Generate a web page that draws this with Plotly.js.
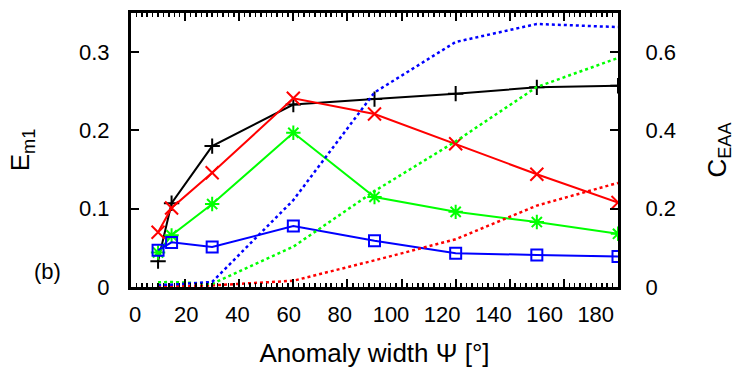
<!DOCTYPE html>
<html>
<head>
<meta charset="utf-8">
<script src="https://cdn.plot.ly/plotly-3.0.1.min.js"></script>
<style>
html,body{margin:0;padding:0;background:#fff;}
#chart{width:747px;height:374px;}
</style>
</head>
<body>
<div id="chart"></div>
<script>
// Anomaly width Psi [deg]
var psi = [10, 15, 30, 60, 90, 120, 150, 180];

// E_m1 (left axis), solid lines with markers
var emBlack = [0.033, 0.107, 0.180, 0.233, 0.240, 0.247, 0.255, 0.257];
var emRed   = [0.070, 0.101, 0.146, 0.241, 0.221, 0.183, 0.144, 0.108];
var emGreen = [0.044, 0.066, 0.106, 0.197, 0.115, 0.096, 0.083, 0.068];
var emBlue  = [0.047, 0.057, 0.051, 0.078, 0.059, 0.043, 0.041, 0.039];

// C_EAA (right axis), dotted lines
var cBlue  = [0.005, 0.006, 0.013, 0.222, 0.497, 0.626, 0.672, 0.664];
var cGreen = [0.012, 0.013, 0.008, 0.103, 0.245, 0.372, 0.511, 0.585];
var cRed   = [0.002, 0.002, 0.004, 0.016, 0.068, 0.122, 0.208, 0.266];

var xTicks = [0, 20, 40, 60, 80, 100, 120, 140, 160, 180];
var yLeftTicks = [0, 0.1, 0.2, 0.3];
var yLeftText = ['0', '0.1', '0.2', '0.3'];
var yRightTicks = [0, 0.2, 0.4, 0.6];
var yRightText = ['0', '0.2', '0.4', '0.6'];

var FONT = 'Liberation Sans, Arial, sans-serif';

function solid(y, color, symbol, size) {
  return {
    x: psi, y: y, type: 'scatter', mode: 'lines+markers',
    xaxis: 'x', yaxis: 'y',
    line: {color: color, width: 2},
    marker: {symbol: symbol, size: size, color: color, line: {color: color, width: 2}},
    showlegend: false, hoverinfo: 'skip'
  };
}
function dotted(y, color) {
  return {
    x: psi, y: y, type: 'scatter', mode: 'lines',
    xaxis: 'x', yaxis: 'y2',
    line: {color: color, width: 2.5, dash: 'dot'},
    showlegend: false, hoverinfo: 'skip'
  };
}

var data = [
  dotted(cRed, '#ff0000'),
  dotted(cGreen, '#00ff00'),
  dotted(cBlue, '#0000ff'),
  solid(emBlack, '#000000', 'cross-thin-open', 11),
  solid(emRed, '#ff0000', 'x-thin-open', 13),
  solid(emGreen, '#00ff00', 'asterisk-open', 12),
  solid(emBlue, '#0000ff', 'square-open', 11),
  // empty trace so the label-only axis gets a subplot
  {x: [], y: [], type: 'scatter', mode: 'lines', xaxis: 'x2', yaxis: 'y', showlegend: false, hoverinfo: 'skip'}
];

var layout = {
  width: 747, height: 374,
  margin: {l: 131, r: 129, t: 13, b: 87, pad: 0},
  paper_bgcolor: '#ffffff', plot_bgcolor: '#ffffff',
  font: {family: FONT, size: 22, color: '#000000'},
  showlegend: false,
  xaxis: {
    range: [0, 180],
    tickmode: 'array', tickvals: xTicks, showticklabels: false,
    ticks: 'inside', ticklen: 8, tickwidth: 2, tickcolor: '#000',
    minor: {dtick: 2, ticks: 'inside', ticklen: 4, tickwidth: 1.5, tickcolor: '#000'},
    showline: true, linewidth: 3, linecolor: '#000', mirror: 'ticks',
    showgrid: false, zeroline: false
  },
  // label-only axis: the reference prints its tick labels slightly compressed
  xaxis2: {
    overlaying: 'x', anchor: 'y', side: 'bottom',
    range: [-1.6, 188.7],
    tickmode: 'array', tickvals: xTicks, ticktext: xTicks.map(String),
    ticks: '', showline: false, showgrid: false, zeroline: false,
    ticklabelstandoff: 12,
    tickfont: {family: FONT, size: 22},
    title: {text: 'Anomaly width Ψ [°]', font: {family: FONT, size: 26}, standoff: 17}
  },
  yaxis: {
    range: [0, 0.35],
    tickmode: 'array', tickvals: yLeftTicks, ticktext: yLeftText,
    ticks: 'inside', ticklen: 8, tickwidth: 2, tickcolor: '#000',
    showline: true, linewidth: 3, linecolor: '#000',
    showgrid: false, zeroline: false,
    ticklabelstandoff: 14,
    tickfont: {family: FONT, size: 22},
    title: {text: 'E<sub>m1</sub>', font: {family: FONT, size: 26}, standoff: 42}
  },
  yaxis2: {
    range: [0, 0.7], overlaying: 'y', side: 'right',
    tickmode: 'array', tickvals: yRightTicks, ticktext: yRightText,
    ticks: 'inside', ticklen: 8, tickwidth: 2, tickcolor: '#000',
    showline: true, linewidth: 3, linecolor: '#000',
    showgrid: false, zeroline: false,
    ticklabelstandoff: 20,
    tickfont: {family: FONT, size: 22},
    title: {text: 'C<sub>EAA</sub>', font: {family: FONT, size: 26}, standoff: 33}
  },
  annotations: [{
    text: '(b)', xref: 'paper', yref: 'paper',
    x: -0.172, y: 0.055, xanchor: 'center', yanchor: 'middle',
    showarrow: false, font: {family: FONT, size: 22, color: '#000'}
  }]
};

Plotly.newPlot('chart', data, layout, {staticPlot: true, displayModeBar: false});
</script>
</body>
</html>
